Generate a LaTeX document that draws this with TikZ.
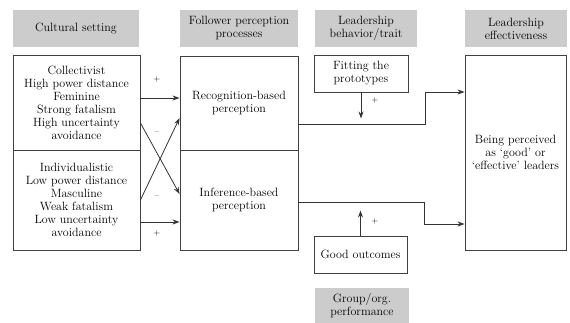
\documentclass[tikz,border=0pt]{standalone}
\usetikzlibrary{positioning,arrows.meta}

\begin{document}
\begin{tikzpicture}[x=1pt,y=-1pt,>={Stealth[length=7pt,width=5pt]},
  hdr/.style={fill=gray!40,minimum height=37pt,align=center,inner sep=1pt,font=\fontsize{12}{13}\selectfont},
  box/.style={draw=black!75,line width=0.9pt,align=center,inner sep=2pt,font=\fontsize{12}{13}\selectfont},
  arr/.style={->,draw=black!80,line width=0.8pt},
  sgn/.style={font=\fontsize{8}{9}\selectfont,inner sep=1pt}]
\useasboundingbox (0,0) rectangle (570,323);
% column heads
\node[hdr,minimum width=126pt] (hcult) at (76,28.5) {Cultural setting};
\node[hdr,minimum width=118pt] (hfoll) at (239,28.5) {Follower perception\\processes};
\node[hdr,minimum width=102pt] (hlead) at (366,28.5) {Leadership\\behavior/trait};
\node[hdr,minimum width=102pt] (heff) at (516,28.5) {Leadership\\effectiveness};
\node[hdr,minimum width=94pt,minimum height=35pt] (hgroup) at (362,305.5) {Group/org.\\performance};
% boxes
\node[box,minimum width=127pt,minimum height=95pt] (coll) at (76.5,102.5) {Collectivist\\High power distance\\Feminine\\Strong fatalism\\High uncertainty\\avoidance};
\node[box,minimum width=127pt,minimum height=100pt] (indiv) at (76.5,200) {Individualistic\\Low power distance\\Masculine\\Weak fatalism\\Low uncertainty\\avoidance};
\node[box,minimum width=118pt,minimum height=94pt] (recog) at (239,103) {Recognition-based\\perception};
\node[box,minimum width=118pt,minimum height=100pt] (infer) at (239,200) {Inference-based\\perception};
\node[box,minimum width=94pt,minimum height=37pt] (fit) at (361,73.5) {Fitting the\\prototypes};
\node[box,minimum width=93pt,minimum height=37pt] (good) at (360.5,254.5) {Good outcomes};
\node[box,minimum width=101pt,minimum height=195pt] (effect) at (515.5,152.5) {Being perceived\\as `good' or\\`effective' leaders};
% links
\draw[arr] ([yshift=4.5pt]coll.east) -- ([yshift=5pt]recog.west);
\draw[arr] ([yshift=-22pt]indiv.east) -- ([yshift=-22pt]infer.west);
\draw[arr] ([yshift=-20.5pt]coll.east) -- ([yshift=6pt]infer.west);
\draw[arr] (indiv.east) -- ([yshift=-15pt]recog.west);
\draw[arr] ([yshift=-21pt]recog.east) -- ++(127,0) |- ([yshift=60.5pt]effect.west);
\draw[arr] ([yshift=-2pt]infer.east) -- ++(126,0) |- ([yshift=-71.5pt]effect.west);
\draw[arr] (fit.south) -- ++(0,26);
\draw[arr] (good.north) -- ++(0,-25);
% signs
\node[sgn] (s1) at (157,80) {+};
\node[sgn] (s2) at (157,233) {+};
\node[sgn] (s3) at (157,133) {--};
\node[sgn] (s4) at (157,197) {--};
\node[sgn] (s5) at (375,101) {+};
\node[sgn] (s6) at (375,221) {+};
\end{tikzpicture}
\end{document}
